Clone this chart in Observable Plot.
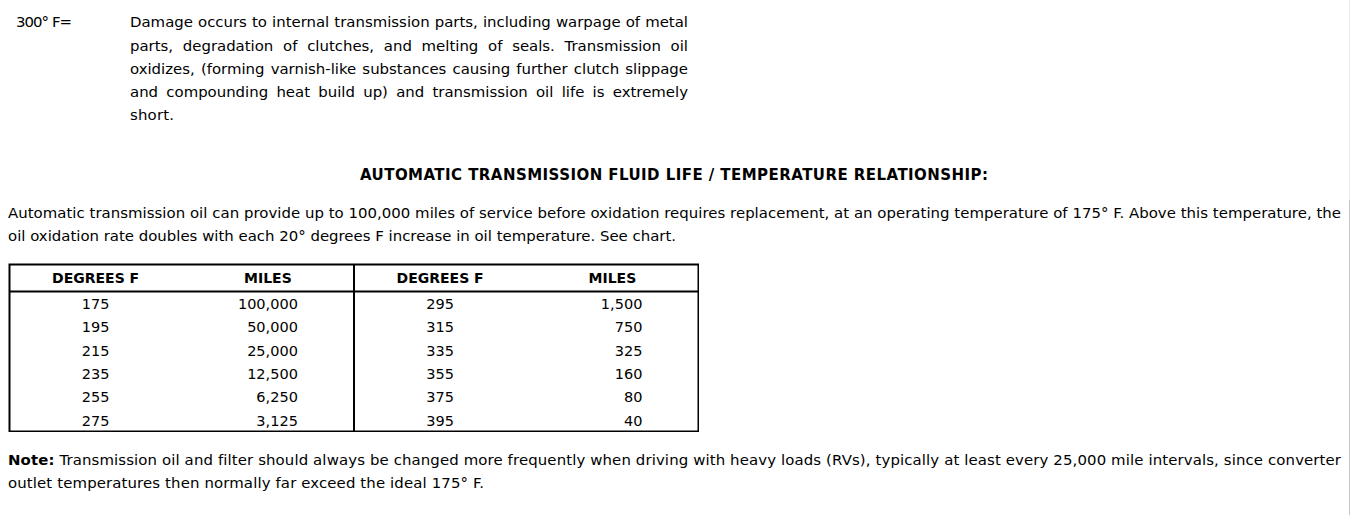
<!DOCTYPE html>
<html><head><meta charset="utf-8">
<script src="https://cdn.jsdelivr.net/npm/d3@7"></script>
<script src="https://cdn.jsdelivr.net/npm/@observablehq/plot@0.6"></script>
<style>
html,body{margin:0;padding:0;background:#fff;}
body{width:1351px;height:515px;position:relative;overflow:hidden;font-family:"Comic Sans MS","DejaVu Sans",sans-serif;color:#000;}
.ln{position:absolute;white-space:nowrap;font-size:15px;line-height:23px;}
.ttl{font-weight:bold;}
#edge{position:absolute;left:1349px;top:0;width:1px;height:515px;background:linear-gradient(#ececec 0,#ececec 200px,#c8c8c8 200px);}
#table{position:absolute;left:8px;top:263px;line-height:0;}
</style></head><body>
<div id="edge"></div>
<div id="table"></div>
<script>
// ---- data ----
const tableHeaders = ["DEGREES F", "MILES", "DEGREES F", "MILES"];
const degreesLeft = [175, 195, 215, 235, 255, 275];
const milesLeft = [100000, 50000, 25000, 12500, 6250, 3125];
const degreesRight = [295, 315, 335, 355, 375, 395];
const milesRight = [1500, 750, 325, 160, 80, 40];

const heatLabel = "300° F=";
const heatLines = [
  "Damage occurs to internal transmission parts, including warpage of metal",
  "parts, degradation of clutches, and melting of seals. Transmission oil",
  "oxidizes, (forming varnish-like substances causing further clutch slippage",
  "and compounding heat build up) and transmission oil life is extremely",
  "short."
];
const titleText = "AUTOMATIC TRANSMISSION FLUID LIFE / TEMPERATURE RELATIONSHIP:";
const introLines = [
  "Automatic transmission oil can provide up to 100,000 miles of service before oxidation requires replacement, at an operating temperature of 175° F. Above this temperature, the",
  "oil oxidation rate doubles with each 20° degrees F increase in oil temperature. See chart."
];
const noteLabel = "Note:";
const noteLines = [
  " Transmission oil and filter should always be changed more frequently when driving with heavy loads (RVs), typically at least every 25,000 mile intervals, since converter",
  "outlet temperatures then normally far exceed the ideal 175° F."
];

// ---- text layout ----
function measure(html, fs, bold) {
  const el = document.createElement("div");
  el.className = "ln";
  el.style.fontSize = fs + "px";
  if (bold) el.style.fontWeight = "bold";
  el.innerHTML = html;
  document.body.appendChild(el);
  const W = el.getBoundingClientRect().width;
  el.remove();
  return W;
}
// body font size chosen so that a natural (unjustified) line matches the reference width
const bodyFs = Math.min(15.5, 15 * 668 / measure(introLines[1], 15));
const titleFs = Math.min(15, 14 * 628 / measure(titleText, 14, true));

function addLine(html, x, cy, w, mode, fs, cls) {
  const el = document.createElement("div");
  el.className = "ln" + (cls ? " " + cls : "");
  el.style.fontSize = fs + "px";
  el.innerHTML = html;
  el.style.left = x + "px";
  el.style.top = (cy - 11.5) + "px";
  document.body.appendChild(el);
  const W = el.getBoundingClientRect().width;
  const txt = el.textContent;
  if (mode === "ws") {
    const n = (txt.match(/ /g) || []).length;
    el.style.wordSpacing = ((w - W) / n) + "px";
  } else {
    const n = txt.length - 1;
    el.style.letterSpacing = ((w - W) / n) + "px";
  }
  return el;
}
addLine(heatLabel, 16, 22, 56, "ls", bodyFs);
const heatY = [22, 46, 69, 92, 115];
heatLines.forEach((t, i) => addLine(t, 130, heatY[i], i < 4 ? 558 : 44, i < 4 ? "ws" : "ls", bodyFs));
addLine(titleText, 360, 175, 628, "ls", titleFs, "ttl");
addLine(introLines[0], 8, 213, 1333, "ls", bodyFs);
addLine(introLines[1], 8, 236, 668, "ls", bodyFs);
addLine("<b>" + noteLabel + "</b>" + noteLines[0], 8, 460, 1333, "ls", bodyFs);
addLine(noteLines[1], 8, 483, 476, "ls", bodyFs);

// ---- table via Plot ----
const fmt = d3.format(",");
const degCells = [
  ...degreesLeft.map((d, i) => ({col: 0, row: i, text: String(d)})),
  ...degreesRight.map((d, i) => ({col: 2, row: i, text: String(d)}))
];
const milesCells = [
  ...milesLeft.map((d, i) => ({col: 1, row: i, text: fmt(d)})),
  ...milesRight.map((d, i) => ({col: 3, row: i, text: fmt(d)}))
];
const headerCells = tableHeaders.map((t, i) => ({col: i, text: t}));

const chart = Plot.plot({
  width: 691, height: 169,
  marginTop: 1, marginBottom: 1, marginLeft: 1, marginRight: 1,
  style: {fontFamily: '"Comic Sans MS","DejaVu Sans",sans-serif', fontSize: "15px", background: "white", color: "black"},
  x: {domain: [0, 4], axis: null},
  y: {domain: [-1.157, 6], reverse: true, axis: null},
  marks: [
    Plot.frame({stroke: "black", strokeWidth: 2}),
    Plot.ruleY([0], {stroke: "black", strokeWidth: 2}),
    Plot.ruleX([2], {stroke: "black", strokeWidth: 2}),
    Plot.text(headerCells, {x: d => d.col + 0.5, y: () => -0.56, text: "text", fontWeight: "bold", fontSize: 14, ariaLabel: "header"}),
    Plot.text(degCells, {x: d => d.col + 0.5, y: d => d.row + 0.55, text: "text", textAnchor: "middle", fontSize: 14.5, ariaLabel: "deg"}),
    Plot.text(milesCells, {x: d => d.col + 0.5, y: d => d.row + 0.55, text: "text", textAnchor: "end", dx: 30, fontSize: 14.5, ariaLabel: "miles"})
  ]
});
document.getElementById("table").appendChild(chart);

// fit header and number widths to the reference
const svg = d3.select(chart);
svg.selectAll('g[aria-label="header"] text').each(function() {
  const t = this.textContent;
  const target = t === "MILES" ? 51 : 88;
  const L = this.getComputedTextLength();
  this.setAttribute("letter-spacing", ((target - L) / (t.length - 1)) + "px");
});
let numLs = 0;
svg.selectAll('g[aria-label="miles"] text').each(function() {
  if (this.textContent === "100,000") numLs = (55 - this.getComputedTextLength()) / 6;
});
svg.selectAll('g[aria-label="miles"] text, g[aria-label="deg"] text').attr("letter-spacing", numLs + "px");
</script>
</body></html>
